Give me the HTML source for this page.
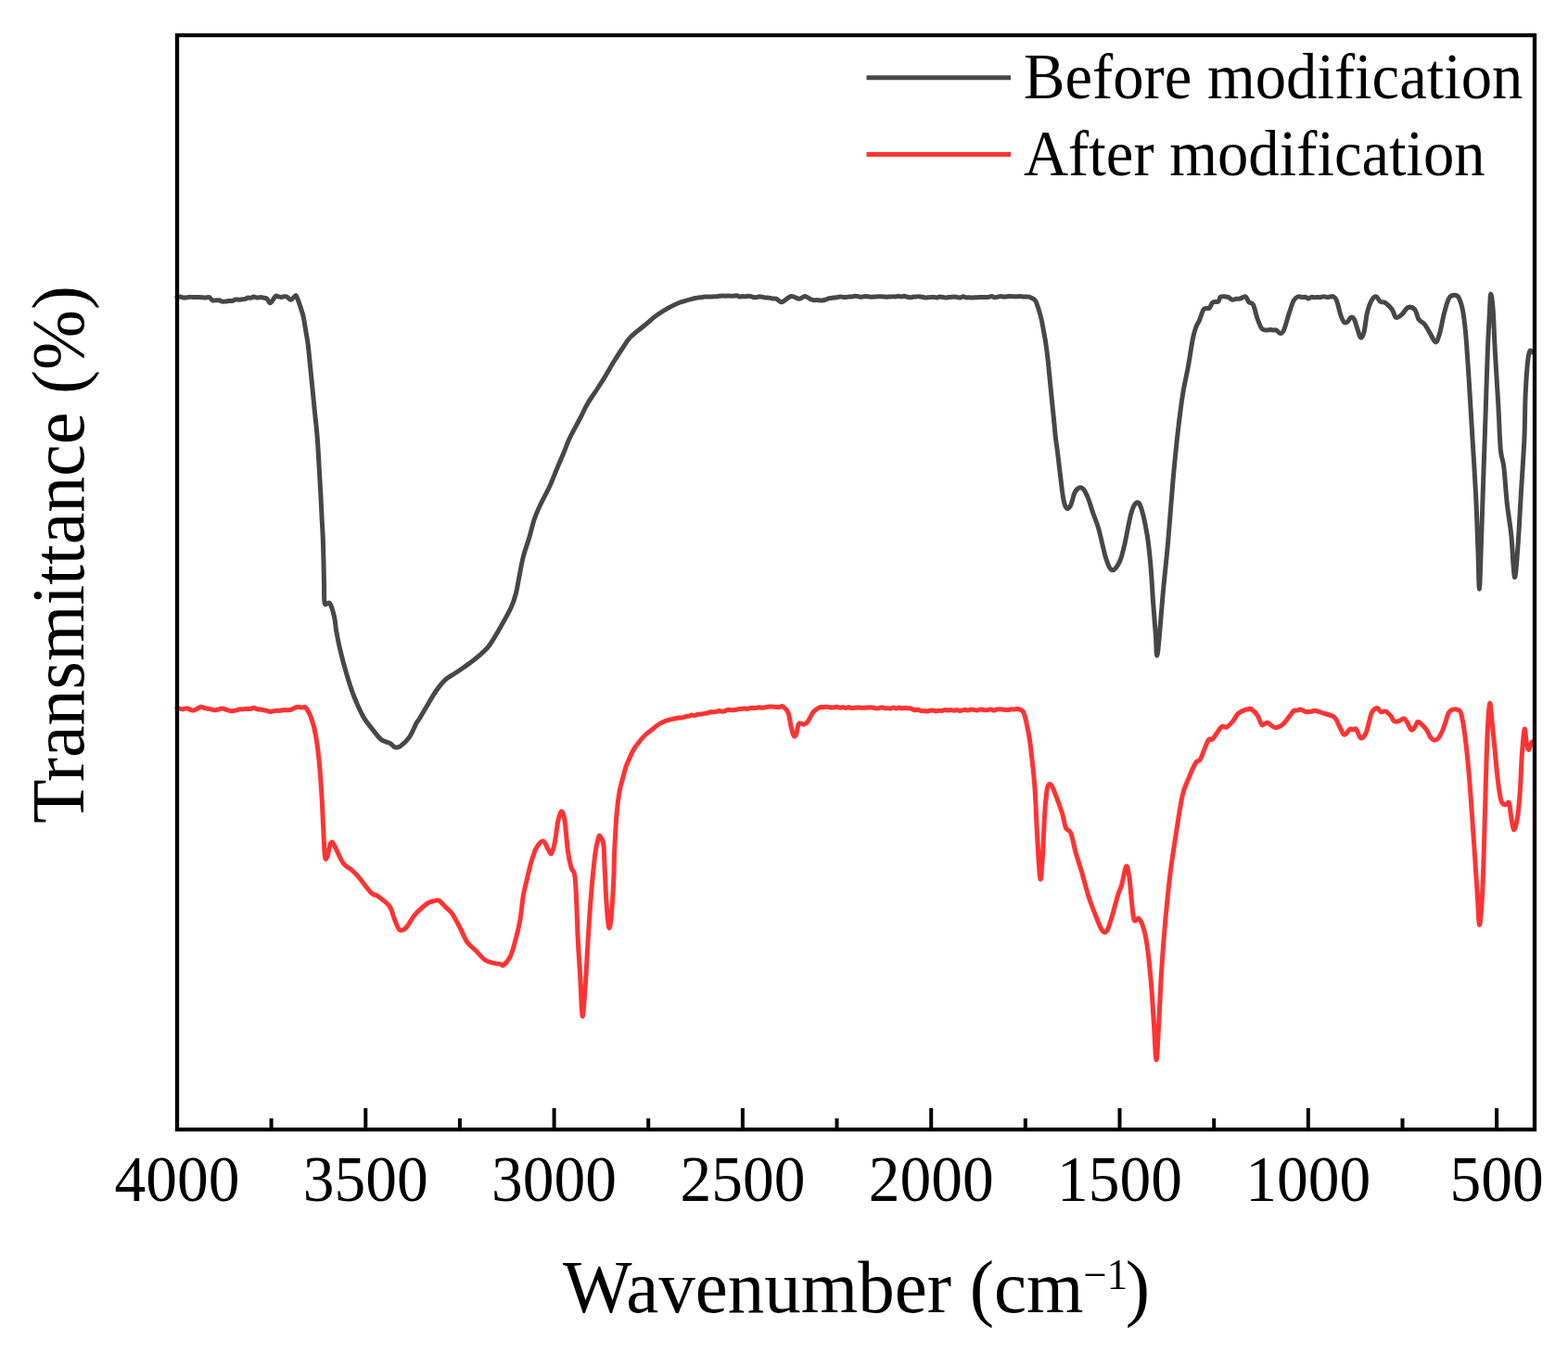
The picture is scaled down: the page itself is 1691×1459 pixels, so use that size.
<!DOCTYPE html>
<html><head><meta charset="utf-8"><style>
html,body{margin:0;padding:0;background:#fff;}
svg{display:block;filter:blur(0.6px);}
text{font-family:"Liberation Serif","Times New Roman",serif;fill:#000;}
</style></head><body>
<svg width="1691" height="1459" viewBox="0 0 1691 1459">
<rect x="0" y="0" width="1691" height="1459" fill="#fff"/>
<path d="M191.0,320.5 C191.6,320.4 193.2,319.9 194.4,320.0 C195.5,320.1 196.6,320.8 197.7,321.0 C198.8,321.1 200.0,321.0 201.1,320.9 C202.2,320.7 203.3,320.2 204.4,320.2 C205.6,320.1 206.6,320.4 207.8,320.5 C209.0,320.6 210.2,320.5 211.4,320.5 C212.5,320.5 213.7,320.4 214.9,320.4 C216.1,320.5 217.3,320.6 218.5,320.7 C219.7,320.8 220.9,320.9 222.0,320.9 C223.2,320.9 224.4,320.0 225.6,320.5 C226.8,321.0 228.0,323.5 229.2,324.0 C230.4,324.5 231.6,323.7 232.8,323.7 C234.0,323.7 235.2,323.6 236.3,323.8 C237.5,324.1 238.7,325.0 239.9,325.2 C241.1,325.4 242.3,325.1 243.5,325.0 C244.7,324.9 245.9,324.6 247.1,324.5 C248.2,324.4 249.4,324.7 250.6,324.5 C251.8,324.2 253.0,323.2 254.2,323.0 C255.4,322.8 256.6,323.2 257.7,323.2 C258.9,323.1 260.2,322.9 261.3,322.8 C262.4,322.7 263.4,322.7 264.4,322.4 C265.4,322.1 266.5,321.2 267.5,321.0 C268.5,320.8 269.6,321.5 270.6,321.3 C271.6,321.2 272.6,320.0 273.7,320.0 C274.8,320.0 276.1,321.1 277.3,321.1 C278.5,321.2 279.7,320.5 280.9,320.5 C282.0,320.5 283.2,320.8 284.4,321.1 C285.6,321.4 286.8,321.4 288.0,322.3 C289.2,323.2 290.1,327.1 291.6,326.7 C293.1,326.2 295.5,320.8 296.9,319.6 C298.3,318.4 299.0,319.6 300.0,319.8 C301.1,319.9 302.1,320.4 303.1,320.4 C304.2,320.4 305.2,319.8 306.3,319.7 C307.3,319.7 308.1,319.4 309.4,320.0 C310.7,320.6 312.3,323.3 313.8,323.2 C315.3,323.1 317.3,319.8 318.3,319.2 C319.3,318.6 319.0,318.1 319.9,319.9 C320.8,321.7 322.4,326.1 323.6,329.8 C324.8,333.5 326.3,337.6 327.3,342.1 C328.3,346.6 329.0,352.0 329.8,356.9 C330.6,361.8 331.4,365.1 332.2,371.7 C333.0,378.3 333.9,388.2 334.7,396.4 C335.5,404.6 336.4,412.9 337.2,421.1 C338.0,429.3 338.8,437.6 339.6,445.8 C340.4,454.0 341.4,461.0 342.1,470.5 C342.9,480.0 343.5,492.3 344.1,502.6 C344.7,512.9 345.3,523.2 345.8,532.2 C346.3,541.2 346.6,548.7 347.0,556.9 C347.4,565.1 348.0,573.4 348.3,581.6 C348.6,589.8 348.8,598.1 349.0,606.3 C349.2,614.5 349.3,623.6 349.5,631.0 C349.7,638.4 349.2,647.4 350.2,650.7 C351.2,654.0 354.0,648.2 355.7,650.7 C357.4,653.2 359.5,660.7 360.6,665.6 C361.8,670.5 361.6,674.4 362.6,680.0 C363.6,685.6 364.6,691.3 366.5,699.3 C368.4,707.3 371.6,719.4 374.1,728.0 C376.7,736.6 378.9,743.6 381.8,751.0 C384.7,758.4 388.2,766.4 391.4,772.2 C394.6,778.0 397.8,781.5 401.0,785.6 C404.2,789.8 408.1,794.7 410.6,797.1 C413.2,799.5 414.6,799.2 416.3,800.0 C418.1,800.8 419.5,800.9 421.1,801.9 C422.7,802.9 424.2,805.3 426.0,805.8 C427.8,806.3 429.1,806.6 431.7,804.8 C434.2,803.0 438.4,799.4 441.3,795.2 C444.2,791.1 447.2,783.3 449.0,779.9 C450.8,776.5 449.8,779.1 452.3,775.0 C454.8,770.9 461.2,759.9 464.1,755.0 C467.1,750.1 468.0,748.4 470.0,745.5 C472.0,742.6 474.0,739.8 476.0,737.5 C478.0,735.2 479.7,733.3 482.0,731.5 C484.3,729.7 487.0,728.5 490.0,726.5 C493.0,724.5 496.7,722.0 500.0,719.7 C503.3,717.4 506.7,715.1 510.0,712.5 C513.3,709.9 516.9,707.0 520.0,704.1 C523.1,701.2 525.0,699.9 528.4,695.0 C531.8,690.1 536.7,681.7 540.5,675.0 C544.3,668.3 548.6,660.8 551.2,655.0 C553.9,649.2 554.9,645.8 556.4,640.0 C557.9,634.2 559.0,626.7 560.3,620.0 C561.6,613.3 562.7,606.7 564.4,600.0 C566.1,593.3 568.7,586.7 570.7,580.0 C572.7,573.3 574.2,565.8 576.2,560.0 C578.2,554.2 579.7,550.8 582.4,545.0 C585.1,539.2 589.4,531.7 592.5,525.0 C595.6,518.3 598.3,510.8 600.8,505.0 C603.2,499.2 605.1,495.0 607.2,490.0 C609.3,485.0 611.4,479.2 613.2,475.0 C615.0,470.8 616.0,469.2 618.2,465.0 C620.4,460.8 623.6,455.0 626.2,450.0 C628.8,445.0 630.9,440.0 633.8,435.0 C636.7,430.0 640.5,425.0 643.7,420.0 C646.9,415.0 650.2,410.0 653.2,405.0 C656.2,400.0 659.0,394.8 662.0,390.0 C665.0,385.2 668.0,380.4 671.0,376.0 C674.0,371.6 676.0,367.6 680.0,363.4 C684.0,359.2 690.0,355.1 695.0,351.0 C700.0,346.9 704.2,342.7 710.0,338.8 C715.8,334.9 723.3,330.4 730.0,327.5 C736.7,324.6 746.1,322.6 750.0,321.5 C753.9,320.4 752.1,320.9 753.2,320.8 C754.3,320.7 755.3,321.0 756.4,320.8 C757.5,320.7 758.5,320.1 759.6,320.0 C760.7,319.9 761.7,320.0 762.8,320.0 C763.9,320.0 764.9,320.1 766.0,320.1 C767.1,320.1 768.2,319.9 769.3,319.8 C770.4,319.8 771.5,319.8 772.6,319.7 C773.7,319.6 774.8,319.3 775.9,319.2 C777.0,319.1 778.1,319.0 779.2,319.0 C780.3,319.0 781.4,319.2 782.5,319.2 C783.6,319.2 784.5,318.9 785.6,318.9 C786.6,318.9 787.6,319.2 788.6,319.3 C789.6,319.3 790.6,319.2 791.7,319.1 C792.7,319.0 793.7,318.6 794.7,318.8 C795.7,318.9 796.8,319.8 797.8,320.0 C798.8,320.1 799.8,319.6 800.8,319.6 C801.9,319.6 802.9,319.9 803.9,319.8 C804.9,319.7 805.9,319.2 806.9,319.2 C808.0,319.2 809.0,319.5 810.0,319.7 C811.0,319.9 812.0,320.5 813.1,320.6 C814.1,320.8 815.1,320.8 816.1,320.6 C817.2,320.5 818.2,319.9 819.2,319.8 C820.2,319.8 821.2,320.1 822.3,320.3 C823.3,320.5 824.3,321.0 825.3,321.1 C826.4,321.2 827.2,320.9 828.4,321.0 C829.6,321.1 831.3,321.7 832.8,321.9 C834.2,322.1 835.3,321.6 837.1,322.2 C838.9,322.8 840.6,326.1 843.3,325.7 C846.0,325.2 850.0,320.1 853.1,319.5 C856.2,318.9 859.4,322.2 861.9,322.2 C864.4,322.2 866.0,319.4 868.1,319.5 C870.2,319.6 872.7,322.0 874.3,322.7 C875.9,323.4 876.7,323.6 877.9,323.7 C879.1,323.9 880.2,323.4 881.4,323.5 C882.6,323.5 883.9,323.9 885.0,324.0 C886.1,324.1 887.1,324.0 888.1,323.8 C889.1,323.6 890.2,323.2 891.2,322.9 C892.2,322.5 893.3,322.0 894.3,321.7 C895.3,321.4 896.1,321.5 897.4,321.3 C898.7,321.1 900.4,321.0 901.8,320.7 C903.3,320.5 905.0,319.9 906.3,319.9 C907.6,319.9 908.4,320.4 909.4,320.4 C910.5,320.5 911.5,320.5 912.5,320.4 C913.6,320.3 914.6,320.0 915.7,319.9 C916.7,319.8 917.8,320.1 918.8,320.0 C919.8,319.9 920.9,319.3 921.9,319.2 C923.0,319.2 924.0,319.4 925.0,319.5 C926.1,319.7 927.1,320.3 928.2,320.3 C929.2,320.4 930.2,319.9 931.3,319.8 C932.3,319.6 933.4,319.4 934.4,319.4 C935.5,319.5 936.5,319.8 937.5,320.0 C938.6,320.1 939.6,320.2 940.7,320.2 C941.7,320.2 942.7,320.2 943.8,320.1 C944.8,320.1 945.9,319.8 946.9,319.7 C948.0,319.7 949.0,319.8 950.0,319.8 C951.1,319.8 952.1,319.8 953.2,319.9 C954.2,320.0 955.2,320.3 956.3,320.3 C957.3,320.3 958.4,320.0 959.4,319.9 C960.4,319.8 961.5,319.8 962.5,319.8 C963.6,319.7 964.6,320.0 965.7,319.9 C966.7,319.8 967.7,319.2 968.8,319.2 C969.8,319.2 970.8,319.9 971.9,319.9 C973.0,319.9 974.1,319.2 975.1,319.3 C976.2,319.4 977.3,320.0 978.4,320.3 C979.4,320.5 980.5,320.7 981.6,320.7 C982.7,320.7 983.7,320.3 984.8,320.2 C985.9,320.1 987.0,320.1 988.0,320.0 C989.1,319.9 990.2,319.7 991.3,319.7 C992.3,319.8 993.4,320.0 994.5,320.2 C995.6,320.4 996.6,320.9 997.7,320.9 C998.8,321.0 999.9,320.8 1000.9,320.7 C1002.0,320.6 1003.1,320.5 1004.2,320.4 C1005.2,320.4 1006.3,320.3 1007.4,320.4 C1008.5,320.5 1009.5,321.0 1010.5,320.9 C1011.6,320.8 1012.6,320.1 1013.7,320.0 C1014.7,319.9 1015.7,320.3 1016.8,320.4 C1017.8,320.6 1018.9,321.0 1019.9,321.0 C1021.0,321.0 1022.0,320.6 1023.0,320.5 C1024.1,320.4 1025.1,320.4 1026.2,320.3 C1027.2,320.3 1028.3,320.1 1029.3,320.1 C1030.3,320.1 1031.4,320.3 1032.4,320.5 C1033.5,320.6 1034.5,321.2 1035.6,321.0 C1036.6,320.9 1037.7,319.7 1038.7,319.7 C1039.7,319.7 1040.8,320.6 1041.8,320.8 C1042.9,321.0 1043.9,320.8 1045.0,320.8 C1046.0,320.9 1047.0,321.0 1048.1,320.9 C1049.1,320.9 1050.2,320.8 1051.2,320.7 C1052.3,320.7 1053.3,320.9 1054.3,320.8 C1055.4,320.8 1056.4,320.5 1057.5,320.4 C1058.5,320.4 1059.6,320.4 1060.6,320.4 C1061.6,320.4 1062.6,320.5 1063.6,320.4 C1064.6,320.4 1065.7,320.3 1066.7,320.2 C1067.7,320.0 1068.7,319.5 1069.7,319.6 C1070.7,319.7 1071.7,320.6 1072.7,320.7 C1073.7,320.8 1074.7,320.4 1075.8,320.2 C1076.8,320.0 1077.8,319.6 1078.8,319.6 C1079.8,319.6 1080.8,319.9 1081.8,320.0 C1082.8,320.0 1083.8,319.9 1084.8,319.9 C1085.9,319.8 1086.9,319.7 1087.9,319.6 C1088.9,319.6 1089.9,319.5 1090.9,319.6 C1091.9,319.6 1092.9,319.7 1093.9,319.8 C1094.9,319.8 1096.0,319.9 1097.0,319.8 C1098.0,319.8 1098.9,319.6 1100.0,319.6 C1101.1,319.6 1102.3,319.9 1103.4,320.0 C1104.6,320.1 1105.7,320.0 1106.9,320.0 C1108.0,320.1 1108.7,319.7 1110.3,320.3 C1111.9,320.9 1114.7,321.7 1116.3,323.7 C1117.9,325.7 1118.6,328.9 1119.7,332.3 C1120.8,335.7 1122.1,340.0 1123.1,344.3 C1124.1,348.6 1124.9,353.7 1125.7,358.0 C1126.5,362.3 1127.1,365.1 1127.8,370.0 C1128.5,374.9 1129.3,381.4 1130.0,387.1 C1130.7,392.8 1131.1,398.5 1131.7,404.2 C1132.3,409.9 1132.8,415.7 1133.4,421.4 C1134.0,427.1 1134.5,432.8 1135.1,438.5 C1135.7,444.2 1136.2,449.9 1136.8,455.6 C1137.4,461.3 1137.8,467.1 1138.5,472.8 C1139.2,478.5 1140.1,484.2 1140.8,489.9 C1141.5,495.6 1142.1,501.3 1142.8,507.0 C1143.5,512.7 1144.2,518.8 1144.9,524.2 C1145.6,529.6 1146.2,535.6 1147.1,539.6 C1148.0,543.6 1149.2,547.4 1150.5,548.2 C1151.8,549.1 1153.4,547.6 1154.8,544.7 C1156.2,541.8 1157.5,534.1 1159.1,531.0 C1160.7,527.9 1162.6,526.5 1164.2,525.9 C1165.8,525.3 1166.9,525.6 1168.5,527.6 C1170.1,529.6 1172.0,533.6 1173.7,537.9 C1175.4,542.2 1176.9,547.8 1178.8,553.3 C1180.7,558.8 1182.6,562.4 1184.9,570.6 C1187.2,578.8 1190.5,595.3 1192.9,602.7 C1195.4,610.1 1197.1,614.3 1199.6,614.8 C1202.0,615.2 1205.4,610.1 1207.6,605.4 C1209.8,600.7 1210.9,595.2 1212.9,586.7 C1214.9,578.2 1217.6,562.0 1219.6,554.6 C1221.6,547.2 1223.2,543.9 1225.0,542.6 C1226.8,541.3 1228.3,541.0 1230.3,546.6 C1232.3,552.2 1235.2,565.3 1237.0,576.0 C1238.8,586.7 1239.9,598.2 1241.0,610.7 C1242.1,623.2 1242.8,638.4 1243.7,650.9 C1244.6,663.4 1245.7,676.2 1246.4,685.6 C1247.1,695.0 1247.0,707.0 1247.7,707.0 C1248.4,707.0 1249.3,697.2 1250.4,685.6 C1251.5,674.0 1252.9,654.4 1254.4,637.5 C1256.0,620.6 1257.9,604.0 1259.7,584.0 C1261.5,564.0 1263.3,537.2 1265.1,517.2 C1266.9,497.2 1268.7,479.3 1270.5,463.7 C1272.3,448.1 1274.0,434.8 1275.8,423.6 C1277.6,412.5 1279.3,406.6 1281.1,396.8 C1282.9,387.0 1285.0,372.2 1286.5,364.8 C1288.0,357.4 1288.8,355.6 1290.0,352.3 C1291.2,349.0 1292.1,348.4 1293.5,345.2 C1294.9,342.0 1296.5,335.6 1298.3,333.4 C1300.1,331.2 1302.6,333.4 1304.2,332.2 C1305.8,331.0 1306.1,327.5 1307.7,326.3 C1309.3,325.1 1312.3,326.1 1313.7,325.1 C1315.1,324.1 1314.9,321.3 1316.0,320.4 C1317.1,319.5 1318.8,319.7 1320.2,319.7 C1321.5,319.7 1322.8,319.8 1324.3,320.4 C1325.8,321.0 1327.5,323.0 1329.0,323.3 C1330.5,323.6 1331.8,322.5 1333.2,322.3 C1334.5,322.1 1335.6,322.5 1337.3,322.1 C1339.0,321.7 1341.6,319.2 1343.2,319.8 C1344.8,320.4 1345.4,324.2 1346.8,325.7 C1348.2,327.2 1349.9,325.6 1351.5,328.7 C1353.1,331.8 1354.6,339.7 1356.2,344.0 C1357.8,348.3 1359.2,352.7 1361.0,354.7 C1362.8,356.7 1365.4,355.8 1366.9,355.9 C1368.4,356.0 1369.0,355.4 1370.0,355.4 C1371.1,355.5 1372.1,355.9 1373.2,356.0 C1374.2,356.1 1375.1,355.3 1376.3,355.9 C1377.5,356.5 1379.1,359.4 1380.5,359.4 C1381.9,359.4 1382.9,359.6 1384.6,355.9 C1386.3,352.1 1388.7,342.2 1390.5,336.9 C1392.3,331.6 1393.7,326.8 1395.3,323.9 C1396.9,321.0 1398.5,320.3 1400.0,319.8 C1401.5,319.3 1402.8,320.5 1404.2,320.6 C1405.5,320.7 1407.2,320.2 1408.3,320.4 C1409.4,320.6 1409.6,322.1 1410.6,322.1 C1411.6,322.1 1413.0,320.6 1414.2,320.4 C1415.4,320.2 1416.4,320.7 1417.6,320.7 C1418.7,320.8 1419.8,320.7 1420.9,320.6 C1422.1,320.6 1423.2,320.7 1424.3,320.6 C1425.4,320.4 1426.6,319.7 1427.7,319.7 C1428.8,319.7 1429.9,320.4 1431.1,320.4 C1432.2,320.5 1433.3,320.2 1434.4,320.1 C1435.6,320.0 1436.6,319.2 1437.8,319.8 C1439.0,320.4 1440.0,320.4 1441.4,323.9 C1442.8,327.3 1444.7,336.6 1446.1,340.5 C1447.5,344.4 1448.5,346.5 1449.7,347.6 C1450.9,348.7 1452.0,347.9 1453.2,347.0 C1454.4,346.1 1455.6,342.8 1456.8,342.3 C1458.0,341.8 1459.1,341.9 1460.3,344.0 C1461.5,346.1 1462.7,351.3 1463.9,354.7 C1465.1,358.1 1466.2,363.5 1467.4,364.1 C1468.6,364.7 1469.8,362.7 1471.0,358.2 C1472.2,353.7 1473.1,342.6 1474.5,336.9 C1475.9,331.2 1477.6,326.7 1479.2,323.9 C1480.8,321.1 1482.8,319.7 1484.3,319.9 C1485.8,320.1 1486.9,324.1 1488.5,325.2 C1490.1,326.3 1491.7,324.9 1493.8,326.3 C1495.9,327.7 1499.3,331.0 1501.3,333.7 C1503.2,336.4 1503.7,341.4 1505.5,342.3 C1507.3,343.2 1509.8,340.9 1511.9,339.1 C1514.0,337.3 1516.0,332.5 1518.3,331.6 C1520.6,330.7 1523.8,331.6 1525.8,333.7 C1527.8,335.8 1528.2,341.7 1530.0,344.4 C1531.8,347.1 1534.3,347.0 1536.4,349.7 C1538.5,352.4 1540.8,357.2 1542.8,360.4 C1544.8,363.6 1546.5,368.9 1548.1,368.9 C1549.7,368.9 1550.8,365.7 1552.4,360.4 C1554.0,355.1 1555.9,343.5 1557.7,336.9 C1559.5,330.3 1561.0,324.1 1563.0,321.0 C1565.0,317.9 1567.6,318.1 1569.4,318.3 C1571.2,318.5 1572.3,318.9 1573.7,322.0 C1575.1,325.1 1576.7,330.0 1577.9,336.9 C1579.1,343.8 1579.9,350.6 1581.0,363.6 C1582.1,376.6 1583.3,396.6 1584.5,414.9 C1585.7,433.2 1586.8,453.8 1588.0,473.2 C1589.2,492.6 1590.5,512.1 1591.5,531.5 C1592.5,550.9 1593.1,572.4 1593.8,589.7 C1594.5,607.0 1594.8,635.2 1595.4,635.2 C1596.0,635.2 1596.6,608.9 1597.3,589.7 C1598.0,570.5 1598.8,543.1 1599.6,519.8 C1600.4,496.5 1601.2,473.2 1602.0,449.9 C1602.8,426.6 1603.5,399.3 1604.3,379.9 C1605.1,360.5 1606.0,343.8 1606.6,333.3 C1607.2,322.8 1607.2,317.0 1607.8,317.0 C1608.4,317.0 1609.3,322.8 1610.1,333.3 C1610.9,343.8 1611.4,362.4 1612.4,379.9 C1613.4,397.4 1614.9,420.7 1615.9,438.2 C1616.9,455.7 1617.3,473.9 1618.3,484.8 C1619.3,495.7 1620.6,493.8 1621.8,503.5 C1623.0,513.2 1623.9,530.7 1625.3,543.1 C1626.7,555.5 1628.6,564.9 1629.9,578.1 C1631.2,591.3 1632.2,620.5 1633.4,622.4 C1634.6,624.3 1635.7,604.9 1636.9,589.7 C1638.1,574.6 1639.2,550.9 1640.4,531.5 C1641.6,512.1 1643.1,490.7 1643.9,473.2 C1644.7,455.7 1644.5,440.2 1645.1,426.6 C1645.7,413.0 1646.6,399.6 1647.4,391.6 C1648.2,383.6 1648.7,380.7 1649.7,378.8 C1650.7,376.9 1652.6,379.8 1653.2,380.0" fill="none" stroke="#474747" stroke-width="5.0" stroke-linejoin="round" stroke-linecap="round"/>
<path d="M191.0,763.2 C191.5,763.4 193.1,764.0 194.1,764.3 C195.1,764.5 196.2,764.8 197.2,764.7 C198.2,764.6 199.3,763.9 200.3,763.9 C201.3,763.8 202.4,764.0 203.4,764.4 C204.4,764.7 205.5,765.6 206.5,765.8 C207.5,766.1 207.9,766.4 209.6,765.8 C211.3,765.2 214.9,762.7 216.7,762.3 C218.5,761.9 219.1,763.2 220.3,763.5 C221.5,763.8 222.7,764.1 223.8,764.3 C225.0,764.5 226.2,764.4 227.4,764.7 C228.6,764.9 229.7,765.7 231.0,765.8 C232.3,765.9 234.0,765.4 235.4,765.1 C236.9,764.8 237.7,763.8 239.9,764.1 C242.1,764.4 246.8,766.3 248.8,766.7 C250.8,767.1 250.9,766.5 251.9,766.4 C253.0,766.3 254.0,766.2 255.0,765.9 C256.1,765.7 257.1,765.1 258.1,764.9 C259.2,764.7 260.2,764.9 261.2,764.9 C262.3,764.8 263.3,764.4 264.4,764.4 C265.4,764.3 266.4,764.4 267.5,764.4 C268.5,764.4 269.5,764.5 270.6,764.3 C271.6,764.1 272.6,763.1 273.7,763.2 C274.8,763.3 276.1,764.4 277.3,764.7 C278.5,765.0 279.7,764.8 280.9,765.0 C282.1,765.2 283.2,765.5 284.4,765.8 C285.6,766.0 286.8,766.1 288.0,766.4 C289.2,766.7 290.5,767.6 291.6,767.6 C292.7,767.6 293.8,766.8 294.9,766.6 C296.0,766.3 297.1,766.2 298.2,766.2 C299.3,766.1 300.4,766.5 301.5,766.4 C302.6,766.3 303.7,766.0 304.8,765.8 C305.9,765.7 307.0,765.5 308.1,765.5 C309.2,765.5 310.3,765.9 311.4,765.8 C312.5,765.7 313.2,765.5 314.7,764.9 C316.1,764.3 318.7,762.7 320.1,762.3 C321.5,761.9 322.3,762.5 323.4,762.6 C324.5,762.8 325.5,762.9 326.6,763.0 C327.7,763.1 328.3,761.1 329.9,763.2 C331.5,765.3 334.3,770.6 336.1,775.6 C337.9,780.6 339.3,786.1 340.6,793.5 C341.9,800.9 343.1,809.8 344.1,820.2 C345.1,830.6 346.1,843.9 346.8,855.8 C347.6,867.7 348.0,880.2 348.6,891.5 C349.2,902.8 349.7,918.2 350.4,923.5 C351.1,928.8 352.0,925.9 353.0,923.5 C354.0,921.1 355.4,911.4 356.6,909.3 C357.8,907.2 358.0,907.5 360.2,911.1 C362.4,914.7 366.9,926.2 370.0,930.7 C373.1,935.2 376.2,935.4 378.9,937.8 C381.6,940.2 382.4,940.8 386.0,944.9 C389.6,949.0 396.7,959.1 400.3,962.7 C403.9,966.3 404.1,963.9 407.4,966.3 C410.7,968.7 416.9,972.9 419.9,977.0 C422.9,981.1 423.5,986.6 425.3,990.8 C427.1,995.0 428.6,1000.8 430.7,1002.4 C432.8,1004.0 435.1,1003.1 437.8,1000.6 C440.5,998.1 443.7,990.9 446.7,987.2 C449.7,983.5 452.9,980.7 455.6,978.3 C458.3,975.9 461.0,974.0 462.8,973.0 C464.6,972.0 465.2,972.3 466.4,972.0 C467.6,971.7 468.7,971.3 469.9,971.1 C471.1,971.0 471.7,970.0 473.5,971.2 C475.3,972.4 478.2,975.9 480.6,978.3 C483.0,980.7 485.0,981.5 487.7,985.4 C490.4,989.3 493.9,996.5 496.6,1001.5 C499.3,1006.5 501.0,1011.9 503.7,1015.7 C506.4,1019.6 509.4,1021.3 512.7,1024.6 C516.0,1027.9 519.8,1032.9 523.3,1035.3 C526.8,1037.7 531.7,1038.2 534.0,1038.9 C536.3,1039.6 536.0,1039.1 537.0,1039.3 C538.0,1039.4 539.0,1039.4 540.0,1039.6 C541.0,1039.8 541.3,1042.0 543.0,1040.7 C544.7,1039.4 548.0,1036.0 550.1,1031.8 C552.2,1027.6 553.6,1022.2 555.4,1015.7 C557.2,1009.2 559.3,1000.9 560.8,992.6 C562.3,984.3 563.1,972.9 564.3,965.8 C565.5,958.7 566.4,956.0 567.9,949.8 C569.4,943.6 571.4,934.3 573.2,928.4 C575.0,922.5 576.5,917.7 578.6,914.1 C580.7,910.5 583.6,906.7 585.7,907.0 C587.8,907.3 589.6,913.7 591.1,915.9 C592.6,918.1 593.4,921.6 594.6,920.4 C595.8,919.2 597.0,914.6 598.2,908.8 C599.4,903.0 600.6,891.2 601.8,885.6 C603.0,880.0 604.1,875.3 605.3,875.0 C606.5,874.7 607.7,876.8 608.9,883.9 C610.1,891.0 611.2,909.1 612.4,917.7 C613.6,926.3 614.8,931.3 616.0,935.5 C617.2,939.7 618.7,937.7 619.6,942.7 C620.5,947.8 620.8,954.5 621.4,965.8 C622.0,977.1 622.4,995.5 623.1,1010.4 C623.8,1025.2 625.0,1040.7 625.8,1054.9 C626.6,1069.2 627.2,1094.4 628.1,1095.9 C629.0,1097.4 630.2,1076.6 631.2,1063.8 C632.2,1051.0 632.8,1035.6 633.8,1019.3 C634.8,1003.0 636.1,982.1 637.4,965.8 C638.7,949.5 640.5,931.7 641.8,921.3 C643.1,910.9 644.5,906.8 645.4,903.5 C646.3,900.2 646.4,900.7 647.3,901.8 C648.2,902.9 650.0,904.8 650.8,910.0 C651.6,915.2 651.5,923.6 652.0,933.3 C652.5,943.0 653.1,958.6 653.7,968.3 C654.3,978.0 654.9,986.2 655.5,991.6 C656.1,997.0 656.6,1001.0 657.2,1000.9 C657.8,1000.8 658.3,996.4 658.9,991.0 C659.5,985.6 660.2,976.0 660.7,968.3 C661.2,960.6 661.6,952.8 661.9,945.0 C662.2,937.2 662.2,929.4 662.5,921.6 C662.8,913.8 663.3,905.1 663.7,898.3 C664.1,891.5 664.3,886.6 664.8,880.8 C665.3,875.0 665.9,868.5 666.6,863.3 C667.3,858.0 668.0,853.4 668.9,849.3 C669.8,845.2 670.8,842.2 671.8,838.5 C672.8,834.8 673.9,830.1 674.9,827.0 C675.9,823.9 677.0,822.1 678.0,819.7 C679.0,817.3 680.1,814.7 681.1,812.6 C682.1,810.5 683.0,808.8 684.2,806.9 C685.4,805.0 686.9,803.0 688.3,801.2 C689.7,799.4 691.0,797.6 692.4,796.1 C693.8,794.6 695.0,793.4 696.5,792.0 C698.0,790.6 700.0,789.3 701.7,787.9 C703.4,786.5 705.1,785.1 706.8,783.8 C708.5,782.5 710.2,781.2 711.9,780.2 C713.6,779.2 715.0,778.4 717.1,777.6 C719.2,776.8 722.4,776.1 724.3,775.6 C726.2,775.1 727.0,775.1 728.4,774.8 C729.8,774.5 731.2,774.1 732.5,774.0 C733.8,773.9 735.0,774.2 736.2,773.9 C737.5,773.7 738.9,772.8 740.0,772.5 C741.1,772.2 742.0,772.5 743.0,772.2 C744.1,772.0 745.1,771.2 746.1,771.1 C747.1,770.9 748.1,771.6 749.2,771.6 C750.2,771.5 751.1,770.7 752.2,770.5 C753.3,770.3 754.6,770.4 755.8,770.2 C756.9,770.0 758.1,769.6 759.3,769.4 C760.5,769.2 761.7,769.3 762.9,769.0 C764.0,768.7 765.3,767.9 766.4,767.7 C767.5,767.5 768.4,767.8 769.4,767.8 C770.5,767.7 771.5,767.7 772.5,767.5 C773.5,767.3 774.5,766.7 775.5,766.6 C776.5,766.5 777.6,767.1 778.6,767.2 C779.6,767.2 780.6,767.1 781.6,766.8 C782.6,766.6 783.6,765.6 784.7,765.4 C785.7,765.2 786.7,765.6 787.7,765.6 C788.7,765.6 789.7,765.7 790.7,765.7 C791.8,765.6 792.8,765.5 793.8,765.3 C794.8,765.1 795.8,764.8 796.8,764.6 C797.8,764.5 798.9,764.5 799.9,764.4 C800.9,764.3 801.9,764.1 802.9,764.1 C803.9,764.1 804.9,764.5 806.0,764.4 C807.0,764.3 808.0,763.7 809.0,763.5 C810.0,763.3 811.0,763.3 812.0,763.3 C813.1,763.3 814.1,763.6 815.1,763.5 C816.1,763.4 817.1,762.7 818.1,762.7 C819.1,762.6 820.2,763.1 821.2,763.2 C822.2,763.2 823.2,763.2 824.2,763.0 C825.2,762.8 826.2,762.3 827.3,762.2 C828.3,762.0 829.2,762.0 830.3,762.0 C831.4,762.0 832.7,762.0 833.8,762.1 C835.0,762.2 836.2,762.6 837.4,762.6 C838.6,762.6 839.8,762.4 841.0,762.3 C842.1,762.2 843.0,760.9 844.5,762.0 C846.0,763.1 848.8,765.6 850.2,769.1 C851.6,772.6 852.0,779.3 853.0,783.3 C854.0,787.3 854.9,791.9 855.9,793.3 C856.9,794.7 857.8,793.9 858.7,791.8 C859.6,789.7 860.1,782.3 861.5,780.5 C862.9,778.7 865.5,781.7 867.2,781.2 C868.9,780.7 869.9,779.9 871.5,777.6 C873.1,775.4 875.0,770.2 877.1,767.7 C879.2,765.2 882.5,763.5 884.2,762.7 C885.9,761.9 886.3,762.7 887.4,762.7 C888.4,762.6 889.5,762.3 890.5,762.3 C891.6,762.3 892.6,762.3 893.7,762.5 C894.7,762.6 895.8,762.9 896.8,763.0 C897.9,763.0 899.0,762.8 900.0,762.7 C901.0,762.6 902.0,762.2 903.0,762.3 C904.0,762.4 905.0,763.3 906.1,763.3 C907.1,763.4 908.1,762.5 909.1,762.5 C910.1,762.5 911.1,763.4 912.1,763.4 C913.1,763.5 914.1,762.6 915.1,762.6 C916.1,762.6 917.2,763.5 918.2,763.6 C919.2,763.7 920.2,763.4 921.2,763.3 C922.2,763.2 923.2,763.0 924.2,763.0 C925.2,763.0 926.2,763.0 927.2,763.1 C928.3,763.1 929.3,763.3 930.3,763.3 C931.3,763.3 932.3,763.3 933.3,763.2 C934.3,763.2 935.3,763.0 936.3,762.9 C937.3,762.8 938.3,762.7 939.4,762.8 C940.4,762.9 941.4,763.1 942.4,763.3 C943.4,763.4 944.4,763.8 945.4,763.9 C946.4,763.9 947.4,763.7 948.4,763.5 C949.4,763.3 950.4,762.7 951.5,762.8 C952.5,762.8 953.5,763.7 954.5,763.8 C955.5,764.0 956.5,763.7 957.5,763.7 C958.5,763.8 959.5,764.2 960.5,764.0 C961.5,763.9 962.6,763.1 963.6,763.1 C964.6,763.1 965.6,763.9 966.6,763.9 C967.6,763.9 968.6,763.0 969.6,763.0 C970.6,763.0 971.6,763.8 972.6,763.8 C973.7,763.9 974.7,763.4 975.7,763.3 C976.7,763.3 977.6,763.6 978.7,763.7 C979.8,763.8 981.2,763.7 982.4,764.0 C983.6,764.4 984.9,765.5 986.1,765.7 C987.3,765.9 988.6,765.2 989.8,765.3 C991.0,765.5 992.4,766.4 993.5,766.6 C994.6,766.8 995.6,766.5 996.7,766.6 C997.7,766.6 998.8,767.1 999.8,767.0 C1000.9,766.9 1001.9,766.3 1003.0,766.1 C1004.0,765.9 1005.1,765.9 1006.2,766.0 C1007.2,766.1 1008.3,766.8 1009.3,766.9 C1010.4,766.9 1011.4,766.2 1012.5,766.2 C1013.5,766.1 1014.6,766.7 1015.6,766.6 C1016.7,766.4 1017.8,765.6 1018.8,765.5 C1019.9,765.4 1020.9,765.9 1022.0,766.0 C1023.0,766.0 1024.1,765.6 1025.1,765.6 C1026.2,765.7 1027.3,766.3 1028.3,766.3 C1029.4,766.3 1030.4,765.4 1031.5,765.4 C1032.5,765.5 1033.6,766.5 1034.6,766.6 C1035.7,766.7 1036.8,766.1 1037.8,765.9 C1038.8,765.7 1039.9,765.2 1040.9,765.2 C1041.9,765.2 1043.0,766.2 1044.0,766.1 C1045.0,766.1 1046.1,765.2 1047.1,765.1 C1048.2,765.0 1049.2,765.2 1050.2,765.4 C1051.3,765.6 1052.3,766.2 1053.3,766.1 C1054.4,766.1 1055.4,765.3 1056.4,765.2 C1057.5,765.0 1058.5,765.1 1059.5,765.2 C1060.6,765.3 1061.6,765.8 1062.6,765.8 C1063.7,765.9 1064.7,765.5 1065.7,765.4 C1066.8,765.2 1067.8,764.7 1068.8,764.9 C1069.9,765.0 1070.9,766.1 1072.0,766.1 C1073.0,766.2 1074.0,765.2 1075.1,764.9 C1076.1,764.7 1077.1,764.7 1078.2,764.7 C1079.2,764.8 1080.2,765.0 1081.3,765.1 C1082.3,765.2 1083.3,765.4 1084.4,765.5 C1085.4,765.5 1086.4,765.7 1087.5,765.6 C1088.5,765.5 1089.5,764.8 1090.6,764.7 C1091.6,764.6 1092.7,765.0 1093.7,765.0 C1094.7,764.9 1095.8,764.5 1096.8,764.5 C1097.8,764.5 1098.6,764.2 1099.9,765.1 C1101.2,766.0 1102.8,765.2 1104.4,769.6 C1106.0,774.0 1108.1,784.6 1109.4,791.4 C1110.7,798.1 1110.9,800.3 1112.0,810.1 C1113.1,819.9 1114.9,834.6 1116.0,850.2 C1117.1,865.8 1117.7,887.4 1118.7,903.7 C1119.7,920.0 1120.9,945.1 1121.9,947.8 C1122.9,950.5 1123.8,931.5 1124.6,919.7 C1125.4,907.9 1125.9,888.6 1126.7,877.0 C1127.5,865.4 1128.3,855.3 1129.4,850.2 C1130.5,845.1 1131.8,844.9 1133.4,846.2 C1135.0,847.5 1136.8,853.1 1138.8,858.2 C1140.8,863.3 1143.7,871.2 1145.5,877.0 C1147.3,882.8 1148.0,889.5 1149.5,893.0 C1151.0,896.5 1153.0,893.8 1154.8,898.3 C1156.6,902.8 1158.2,912.6 1160.2,919.7 C1162.2,926.8 1164.6,933.5 1166.8,941.1 C1169.0,948.7 1171.3,958.1 1173.5,965.2 C1175.7,972.3 1177.8,977.7 1180.2,983.9 C1182.7,990.1 1186.0,999.2 1188.2,1002.6 C1190.4,1006.0 1191.8,1006.2 1193.6,1004.0 C1195.4,1001.8 1196.9,995.8 1198.9,989.3 C1200.9,982.8 1203.8,971.0 1205.6,965.2 C1207.4,959.4 1208.1,959.6 1209.6,954.5 C1211.1,949.4 1213.1,936.2 1214.4,934.4 C1215.7,932.6 1216.6,937.8 1217.6,943.8 C1218.6,949.8 1219.4,962.5 1220.3,970.5 C1221.2,978.5 1221.7,988.5 1223.0,991.9 C1224.3,995.2 1226.5,988.8 1228.3,990.6 C1230.1,992.4 1232.1,997.0 1233.7,1002.6 C1235.3,1008.2 1236.4,1013.8 1237.7,1024.0 C1239.0,1034.2 1240.6,1050.7 1241.7,1064.1 C1242.8,1077.5 1243.5,1091.0 1244.4,1104.2 C1245.3,1117.4 1246.2,1143.0 1247.1,1143.0 C1248.0,1143.0 1248.8,1119.6 1249.7,1104.2 C1250.6,1088.8 1251.3,1068.5 1252.4,1050.7 C1253.5,1032.9 1254.8,1015.1 1256.4,997.3 C1258.0,979.5 1259.8,960.3 1261.8,943.8 C1263.8,927.3 1266.2,912.6 1268.4,898.3 C1270.6,884.0 1272.9,868.0 1275.1,858.2 C1277.3,848.4 1279.3,845.5 1281.8,839.5 C1284.2,833.5 1287.6,825.6 1289.8,822.1 C1292.0,818.6 1292.5,822.3 1294.7,818.3 C1296.9,814.3 1300.8,801.8 1303.0,798.2 C1305.2,794.7 1305.3,799.4 1307.7,797.0 C1310.1,794.6 1314.6,786.2 1317.2,784.0 C1319.8,781.8 1320.9,785.2 1323.1,784.0 C1325.3,782.8 1328.2,779.3 1330.2,776.9 C1332.2,774.5 1332.9,771.7 1334.9,769.8 C1336.9,767.9 1340.2,766.5 1342.0,765.7 C1343.8,764.9 1344.4,765.2 1345.5,765.0 C1346.7,764.8 1347.3,763.4 1349.1,764.5 C1350.9,765.6 1354.2,768.7 1356.2,771.6 C1358.2,774.5 1359.2,780.4 1361.0,781.7 C1362.8,783.0 1364.5,778.8 1366.9,779.3 C1369.3,779.8 1372.5,784.3 1375.2,784.6 C1378.0,784.9 1380.7,783.4 1383.4,781.1 C1386.2,778.8 1389.7,773.5 1391.7,771.0 C1393.7,768.5 1394.1,767.1 1395.3,766.3 C1396.5,765.5 1397.7,766.3 1398.8,766.1 C1400.0,765.9 1400.8,764.9 1402.4,765.1 C1404.0,765.3 1406.8,767.1 1408.3,767.5 C1409.8,767.9 1410.4,767.5 1411.4,767.4 C1412.5,767.4 1413.5,767.5 1414.6,767.3 C1415.6,767.1 1415.8,766.1 1417.7,766.3 C1419.6,766.5 1422.5,767.5 1426.0,768.7 C1429.5,769.9 1436.0,771.2 1439.0,773.4 C1442.0,775.6 1442.0,778.6 1443.8,781.7 C1445.6,784.9 1447.7,791.5 1449.7,792.3 C1451.7,793.1 1454.0,787.3 1455.6,786.4 C1457.2,785.5 1458.0,786.8 1459.2,786.8 C1460.3,786.8 1461.3,784.9 1462.7,786.4 C1464.1,787.9 1465.6,795.3 1467.4,795.9 C1469.2,796.5 1471.3,794.5 1473.3,790.0 C1475.3,785.5 1477.2,773.1 1479.2,768.7 C1481.2,764.3 1483.3,763.7 1485.0,763.5 C1486.7,763.3 1487.7,767.1 1489.2,767.7 C1490.7,768.3 1492.4,766.3 1494.2,767.0 C1496.0,767.7 1498.4,770.2 1499.9,772.0 C1501.4,773.8 1502.0,776.7 1503.4,777.6 C1504.8,778.5 1506.6,778.1 1508.4,777.6 C1510.2,777.1 1512.6,774.5 1514.1,774.8 C1515.6,775.0 1516.3,777.1 1517.6,779.1 C1518.9,781.1 1520.6,786.0 1521.9,786.9 C1523.2,787.8 1524.2,786.1 1525.4,784.7 C1526.6,783.3 1527.6,778.9 1529.0,778.4 C1530.4,777.9 1532.2,780.4 1533.9,781.9 C1535.6,783.4 1537.5,785.5 1538.9,787.6 C1540.3,789.7 1541.2,792.9 1542.5,794.7 C1543.8,796.5 1545.3,798.0 1546.7,798.2 C1548.1,798.4 1549.6,797.6 1551.0,796.1 C1552.4,794.6 1553.9,791.8 1555.2,789.0 C1556.5,786.2 1557.6,782.5 1558.8,779.1 C1560.0,775.7 1560.9,770.8 1562.3,768.4 C1563.7,766.0 1565.6,765.4 1567.3,764.9 C1569.0,764.4 1570.9,764.8 1572.3,765.6 C1573.7,766.4 1574.5,764.8 1575.8,769.8 C1577.1,774.8 1578.7,783.6 1580.2,795.6 C1581.7,807.6 1583.3,823.4 1584.8,841.9 C1586.3,860.4 1588.0,886.7 1589.4,906.7 C1590.8,926.8 1592.1,947.1 1593.1,962.2 C1594.1,977.3 1594.7,997.4 1595.6,997.4 C1596.5,997.4 1597.9,977.3 1598.7,962.2 C1599.5,947.1 1600.0,926.8 1600.6,906.7 C1601.2,886.7 1601.8,862.0 1602.4,841.9 C1603.0,821.8 1603.6,800.2 1604.3,786.3 C1605.0,772.4 1605.9,760.0 1606.7,758.5 C1607.5,757.0 1608.1,769.3 1608.9,777.0 C1609.7,784.7 1610.6,794.0 1611.7,804.8 C1612.8,815.6 1614.2,832.0 1615.4,841.9 C1616.6,851.8 1617.7,859.8 1619.1,864.1 C1620.5,868.4 1622.3,867.5 1623.7,867.8 C1625.1,868.1 1626.3,863.1 1627.4,865.9 C1628.5,868.7 1629.3,879.6 1630.2,884.4 C1631.1,889.2 1631.9,895.2 1633.0,894.6 C1634.1,894.0 1635.6,888.0 1636.7,880.7 C1637.8,873.5 1638.6,862.2 1639.4,851.1 C1640.2,840.0 1640.5,824.9 1641.3,814.1 C1642.1,803.3 1643.3,788.5 1644.1,786.3 C1644.9,784.1 1645.5,797.4 1646.3,801.1 C1647.1,804.8 1647.8,808.5 1648.7,808.5 C1649.6,808.5 1650.6,802.6 1651.5,801.1 C1652.4,799.6 1653.8,799.6 1654.3,799.3" fill="none" stroke="#ff3333" stroke-width="5.0" stroke-linejoin="round" stroke-linecap="round"/>
<g stroke="#000" stroke-width="4"><line x1="292.6" y1="1218" x2="292.6" y2="1206" /><line x1="394.3" y1="1218" x2="394.3" y2="1195" /><line x1="495.9" y1="1218" x2="495.9" y2="1206" /><line x1="597.6" y1="1218" x2="597.6" y2="1195" /><line x1="699.2" y1="1218" x2="699.2" y2="1206" /><line x1="800.9" y1="1218" x2="800.9" y2="1195" /><line x1="902.5" y1="1218" x2="902.5" y2="1206" /><line x1="1004.2" y1="1218" x2="1004.2" y2="1195" /><line x1="1105.8" y1="1218" x2="1105.8" y2="1206" /><line x1="1207.5" y1="1218" x2="1207.5" y2="1195" /><line x1="1309.2" y1="1218" x2="1309.2" y2="1206" /><line x1="1410.8" y1="1218" x2="1410.8" y2="1195" /><line x1="1512.5" y1="1218" x2="1512.5" y2="1206" /><line x1="1614.1" y1="1218" x2="1614.1" y2="1195" /></g>
<rect x="191" y="38" width="1464" height="1180" fill="none" stroke="#000" stroke-width="4.3"/>
<g font-size="67.5"><text transform="translate(191.0,1294.7) scale(1.0,1.045)" text-anchor="middle">4000</text><text transform="translate(394.3,1294.7) scale(1.0,1.045)" text-anchor="middle">3500</text><text transform="translate(597.6,1294.7) scale(1.0,1.045)" text-anchor="middle">3000</text><text transform="translate(800.9,1294.7) scale(1.0,1.045)" text-anchor="middle">2500</text><text transform="translate(1004.2,1294.7) scale(1.0,1.045)" text-anchor="middle">2000</text><text transform="translate(1207.5,1294.7) scale(1.0,1.045)" text-anchor="middle">1500</text><text transform="translate(1410.8,1294.7) scale(1.0,1.045)" text-anchor="middle">1000</text><text transform="translate(1614.1,1294.7) scale(1.0,1.045)" text-anchor="middle">500</text></g>
<line x1="934.5" y1="83.7" x2="1090" y2="83.7" stroke="#474747" stroke-width="5.0" stroke-linecap="butt"/>
<line x1="934.5" y1="166.4" x2="1090" y2="166.4" stroke="#ff3333" stroke-width="5.0" stroke-linecap="butt"/>
<text transform="translate(1104,106) scale(0.98,1.02)" font-size="68">Before modification</text>
<text transform="translate(1104,189) scale(0.98,1.02)" font-size="68">After modification</text>
<text transform="translate(607,1415) scale(0.975,1.0)" font-size="81">Wavenumber (cm<tspan font-size="46" dy="-25">−1</tspan><tspan dx="-2.5" dy="25">)</tspan></text>
<text transform="translate(89.8,598) rotate(-90) scale(0.975,1.0)" font-size="80" text-anchor="middle">Transmittance (%)</text>
</svg>
</body></html>
